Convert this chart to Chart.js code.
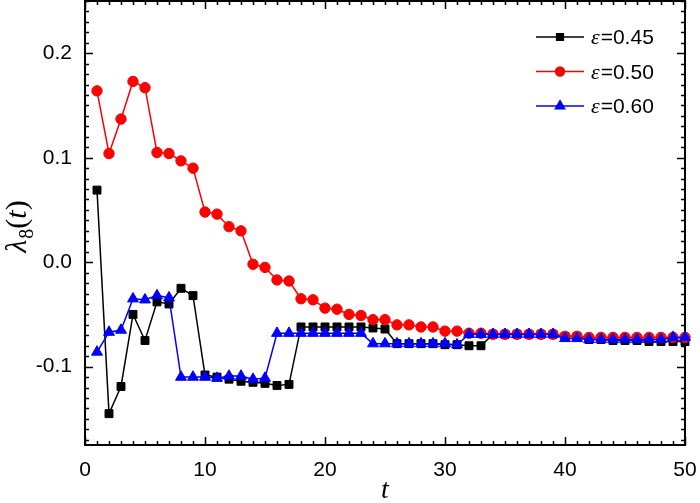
<!DOCTYPE html>
<html>
<head>
<meta charset="utf-8">
<script src="https://cdn.jsdelivr.net/npm/chart.js@4.4.1/dist/chart.umd.min.js"></script>
<style>
  html, body { margin: 0; padding: 0; background: #fff; }
  #wrap { width: 700px; height: 503px; }
</style>
</head>
<body>
<div id="wrap"><canvas id="grafico"></canvas></div>
<script>
// Datos
const tValues = [1, 2, 3, 4, 5, 6, 7, 8, 9, 10, 11, 12, 13, 14, 15, 16, 17, 18, 19, 20,
  21, 22, 23, 24, 25, 26, 27, 28, 29, 30, 31, 32, 33, 34, 35, 36, 37, 38, 39, 40,
  41, 42, 43, 44, 45, 46, 47, 48, 49, 50];

const eps045 = [0.069, -0.145, -0.119, -0.050, -0.075, -0.038, -0.040, -0.025, -0.032, -0.108,
  -0.110, -0.112, -0.114, -0.115, -0.116, -0.118, -0.117, -0.062, -0.062, -0.062,
  -0.062, -0.062, -0.062, -0.063, -0.064, -0.078, -0.078, -0.078, -0.078, -0.079,
  -0.079, -0.080, -0.080, -0.069, -0.069, -0.069, -0.069, -0.069, -0.069, -0.071,
  -0.071, -0.074, -0.074, -0.075, -0.075, -0.075, -0.076, -0.076, -0.076, -0.076];

const eps050 = [0.164, 0.104, 0.137, 0.173, 0.167, 0.105, 0.104, 0.097, 0.090, 0.048,
  0.046, 0.034, 0.030, -0.002, -0.005, -0.017, -0.018, -0.035, -0.036, -0.044,
  -0.045, -0.050, -0.051, -0.055, -0.055, -0.060, -0.060, -0.062, -0.062, -0.066,
  -0.066, -0.068, -0.068, -0.069, -0.069, -0.069, -0.069, -0.069, -0.069, -0.071,
  -0.071, -0.072, -0.072, -0.072, -0.072, -0.072, -0.072, -0.072, -0.072, -0.072];

const eps060 = [-0.086, -0.067, -0.065, -0.035, -0.036, -0.032, -0.034, -0.110, -0.110, -0.110,
  -0.111, -0.109, -0.109, -0.112, -0.111, -0.068, -0.068, -0.068, -0.068, -0.068,
  -0.068, -0.068, -0.068, -0.078, -0.078, -0.078, -0.078, -0.078, -0.078, -0.078,
  -0.079, -0.069, -0.069, -0.069, -0.069, -0.069, -0.069, -0.069, -0.069, -0.073,
  -0.073, -0.074, -0.074, -0.074, -0.074, -0.074, -0.074, -0.074, -0.072, -0.072];

const epsLabels = ['0.45', '0.50', '0.60'];
const xTicks = [0, 10, 20, 30, 40, 50];
const yTicks = [-0.1, 0.0, 0.1, 0.2];

// Estilos
const series = [eps045, eps050, eps060];
const colors = ['#000000', '#ff0000', '#0000ff'];
const shapes = ['rect', 'circle', 'triangle'];
const radii = [5.6, 5.2, 6.3];
const drawOrder = [2, 1, 0];

const sansFont = '"Liberation Sans", Arial, sans-serif';
const serifFont = '"Liberation Serif", "Times New Roman", serif';

// Marco con ticks hacia adentro, en los cuatro lados
const frameTicks = {
  id: 'frameTicks',
  beforeDatasetsDraw(chart) {
    const { ctx, chartArea: a, scales: { x, y } } = chart;
    ctx.save();
    ctx.strokeStyle = '#000';
    ctx.lineWidth = 2;
    ctx.strokeRect(a.left, a.top, a.right - a.left, a.bottom - a.top);
    ctx.lineWidth = 1.5;
    ctx.beginPath();
    for (let t = 0; t <= 50; t++) {
      const px = Math.round(x.getPixelForValue(t)) + 0.5;
      const len = t % 10 === 0 ? 8 : 4;
      ctx.moveTo(px, a.bottom); ctx.lineTo(px, a.bottom - len);
      ctx.moveTo(px, a.top); ctx.lineTo(px, a.top + len);
    }
    for (let k = -17; k <= 25; k++) {
      const py = Math.round(y.getPixelForValue(k / 100)) + 0.5;
      const len = k % 10 === 0 ? 8 : 4;
      ctx.moveTo(a.left, py); ctx.lineTo(a.left + len, py);
      ctx.moveTo(a.right, py); ctx.lineTo(a.right - len, py);
    }
    ctx.stroke();
    ctx.restore();
  },
  afterDraw(chart) {
    const { ctx, chartArea: a } = chart;
    ctx.save();
    ctx.fillStyle = '#000';
    ctx.textBaseline = 'alphabetic';

    // Título eje x
    ctx.font = 'italic 28px ' + serifFont;
    ctx.textAlign = 'center';
    ctx.fillText('t', (a.left + a.right) / 2, 498);

    // Título eje y: λ8(t)
    ctx.translate(26, 227);
    ctx.rotate(-Math.PI / 2);
    ctx.textAlign = 'left';
    const parts = [
      { s: 'λ', f: 'italic 30px ' + serifFont, dy: 0 },
      { s: '8', f: '20px ' + serifFont, dy: 7 },
      { s: '(', f: '30px ' + serifFont, dy: 0 },
      { s: 't', f: 'italic 30px ' + serifFont, dy: 0 },
      { s: ')', f: '30px ' + serifFont, dy: 0 }
    ];
    let total = 0;
    parts.forEach(p => { ctx.font = p.f; p.w = ctx.measureText(p.s).width; total += p.w; });
    let cx = -total / 2;
    parts.forEach(p => { ctx.font = p.f; ctx.fillText(p.s, cx, p.dy); cx += p.w + (p.s === 'λ' ? 1 : 0); });
    ctx.setTransform(1, 0, 0, 1, 0, 0);

    // Leyenda
    chart.data.datasets.forEach((ds, i) => {
      const ly = 37 + i * 34.5;
      ctx.strokeStyle = colors[i];
      ctx.lineWidth = 1.5;
      ctx.beginPath();
      ctx.moveTo(536, ly); ctx.lineTo(584, ly);
      ctx.stroke();
      ctx.fillStyle = colors[i];
      Chart.helpers.drawPoint(ctx, { pointStyle: shapes[i], radius: radii[i] * 0.85, borderWidth: 1 }, 560, ly);
      ctx.fillStyle = '#000';
      ctx.font = 'italic 22px ' + serifFont;
      ctx.fillText('ε', 591, ly + 7);
      const w = ctx.measureText('ε').width;
      ctx.font = '21px ' + sansFont;
      ctx.fillText('=' + epsLabels[i], 591 + w + 1, ly + 7);
    });
    ctx.restore();
  }
};

const ctx = document.getElementById('grafico').getContext('2d');
const myChart = new Chart(ctx, {
  type: 'line',
  data: {
    datasets: series.map((vals, i) => ({
      label: 'ε=' + epsLabels[i],
      data: vals.map((v, k) => ({ x: tValues[k], y: v })),
      borderColor: colors[i],
      backgroundColor: colors[i],
      pointBackgroundColor: colors[i],
      pointBorderColor: colors[i],
      borderWidth: 1.5,
      pointStyle: shapes[i],
      pointRadius: radii[i],
      pointBorderWidth: 1,
      tension: 0,
      clip: false,
      order: drawOrder[i]
    }))
  },
  options: {
    responsive: true,
    maintainAspectRatio: false,
    animation: false,
    layout: { autoPadding: false, padding: { top: 1, right: 15, left: 0, bottom: 0 } },
    plugins: { legend: { display: false }, tooltip: { enabled: false } },
    scales: {
      x: {
        type: 'linear',
        min: 0,
        max: 50,
        afterBuildTicks: s => { s.ticks = xTicks.map(v => ({ value: v })); },
        ticks: { color: '#000', font: { family: sansFont, size: 21 }, padding: 5, maxRotation: 0 },
        grid: { display: false },
        border: { display: false },
        afterFit: s => { s.height = 58; s.paddingLeft = 0; s.paddingRight = 0; }
      },
      y: {
        min: -0.175,
        max: 0.25,
        afterBuildTicks: s => { s.ticks = yTicks.map(v => ({ value: v })); },
        ticks: {
          color: '#000', font: { family: sansFont, size: 21 }, padding: 5,
          callback: v => (Math.abs(v) < 1e-9 ? 0 : v).toFixed(1)
        },
        grid: { display: false },
        border: { display: false },
        afterFit: s => { s.width = 85; s.paddingTop = 0; s.paddingBottom = 0; }
      }
    }
  },
  plugins: [frameTicks]
});
</script>
</body>
</html>
